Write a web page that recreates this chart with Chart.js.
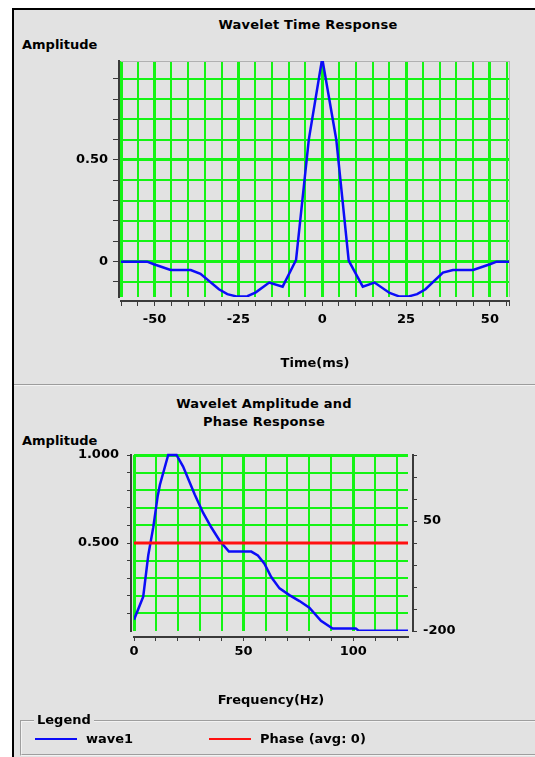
<!DOCTYPE html>
<html>
<head>
<meta charset="utf-8">
<title>Wavelet Response</title>
<script src="https://cdn.jsdelivr.net/npm/chart.js@4.4.1/dist/chart.umd.min.js"></script>
<style>
  body { margin:0; width:535px; height:757px; background:#fff; position:relative; overflow:hidden;
         font-family:"DejaVu Sans", sans-serif; font-weight:bold; font-size:13px; color:#000; }
  #panel { position:absolute; left:12px; top:8px; width:523px; height:749px; background:#e2e2e2;
           border-left:2px solid #000; border-top:2px solid #000; box-sizing:border-box; }
  .sep { position:absolute; left:14px; top:384px; width:521px; height:1px; background:#9c9c9c; border-bottom:1px solid #f4f4f4; }
  canvas { position:absolute; left:0; }
  .lbl { position:absolute; white-space:nowrap; line-height:15px; }
  .title { position:absolute; width:300px; text-align:center; line-height:17.5px; letter-spacing:0.2px; }
  #legendBox { position:absolute; left:20px; top:720px; width:530px; height:36px; box-sizing:border-box;
               border:2px groove #f2f2f2; }
  #legendTag { position:absolute; left:34px; top:712px; padding:0 3px; background:#e2e2e2; line-height:16px; }
  #legendItems { position:absolute; left:35px; top:731px; display:flex; line-height:16px; }
  .item { display:flex; align-items:center; }
  .item .sw { width:42px; height:2px; margin-right:9px; }
</style>
</head>
<body>
<div id="panel"></div>
<div class="sep"></div>

<div class="title" style="left:158px; top:16px;">Wavelet Time Response</div>
<div class="lbl" style="left:22px; top:37px;">Amplitude</div>
<canvas id="timeChart" width="535" height="385" style="top:0;"></canvas>

<div class="title" style="left:114px; top:395px;">Wavelet Amplitude and<br>Phase Response</div>
<div class="lbl" style="left:22px; top:433px;">Amplitude</div>
<canvas id="freqChart" width="535" height="330" style="top:385px;"></canvas>

<div id="legendBox"></div>
<div id="legendTag">Legend</div>
<div id="legendItems"></div>

<script>
// time response (ms, amplitude)
const timeMs = [-60, -52.2, -50.2, -45.2, -39.2, -36.3, -30.8, -28.3, -25.3, -22.3, -19.8, -15.8, -11.8, -7.8, -4, 0,
                4.2, 7.9, 12.1, 15.6, 20.1, 23.1, 25.5, 28.3, 30.8, 36, 39, 45, 50, 52, 55.7];
const timeAmp = [0, 0, -0.013, -0.041, -0.041, -0.06, -0.136, -0.16, -0.172, -0.17, -0.151, -0.103, -0.123, 0.008, 0.6, 1.0,
                 0.6, 0.005, -0.123, -0.103, -0.154, -0.172, -0.172, -0.16, -0.136, -0.054, -0.041, -0.041, -0.013, 0, 0];

// amplitude spectrum (Hz, normalised amplitude)
const freqHz = [0, 4.2, 6.5, 8.8, 10.8, 11.8, 15.6, 19.4, 22.4, 27.7, 31.5, 35.3, 39.1, 43.3, 53.5, 56.5, 59.5, 62.6,
                66.4, 70.9, 75.5, 80, 85.3, 90.6, 101.2, 102.5, 125];
const freqAmp = [0.064, 0.195, 0.43, 0.59, 0.766, 0.83, 1.0, 1.0, 0.934, 0.775, 0.672, 0.588, 0.513, 0.451, 0.451, 0.429, 0.382, 0.307,
                 0.242, 0.204, 0.17, 0.133, 0.058, 0.014, 0.014, 0.002, 0.002];

// phase (degrees)
const phaseHz = [0, 125];
const phaseDeg = [0, 0];

// tick positions and labelled values
const timeTicks = [-60, -55, -50, -45, -40, -35, -30, -25, -20, -15, -10, -5, 0, 5, 10, 15, 20, 25, 30, 35, 40, 45, 50, 55];
const timeLabels = [-50, -25, 0, 25, 50];
const ampTicks = [-0.1, 0, 0.1, 0.2, 0.3, 0.4, 0.5, 0.6, 0.7, 0.8, 0.9];
const ampLabels = { '0': '0', '0.5': '0.50' };
const freqTicks = [0, 10, 20, 30, 40, 50, 60, 70, 80, 90, 100, 110, 120];
const freqLabels = [0, 50, 100];
const specTicks = [0.1, 0.2, 0.3, 0.4, 0.5, 0.6, 0.7, 0.8, 0.9, 1.0];
const specLabels = { '1': '1.000', '0.5': '0.500' };
const phaseTicks = [-200, -150, -100, -50, 0, 50, 100, 150, 200];
const phaseLabels = [50, -200];

const T_MIN = -60, T_MAX = 55.7, A_MIN = -0.174, A_MAX = 0.987;
const F_MIN = 0, F_MAX = 125, S_MIN = 0, S_MAX = 1.0;

const GREEN = '#14f414';
const AXIS = '#3a3a3a';
const BLUE = '#0c0cf8';
const FONT = { family: 'DejaVu Sans', size: 13, weight: 'bold' };
Chart.defaults.font = FONT;
Chart.defaults.color = '#000';

const near = (a, b) => Math.abs(a - b) < 1e-6;
const setTicks = vals => s => { s.ticks = vals.map(v => ({ value: v })); };

// grid-only scale hugging the plot, leaving a small gap before the real axis
function gridScale(pos, min, max, vals, size, widthFor, colorFor) {
  return {
    type: 'linear', position: pos, min, max, weight: 0,
    afterBuildTicks: setTicks(vals),
    afterFit: s => { if (pos === 'bottom') s.height = size; else s.width = size; },
    ticks: { display: false },
    border: { display: false },
    grid: { drawTicks: false, lineWidth: c => widthFor(c.tick.value), color: c => colorFor(c.tick.value) }
  };
}

function axisScale(pos, min, max, vals, size, tickLen, pad, label, extra) {
  return Object.assign({
    type: 'linear', position: pos, min, max, weight: 1,
    afterBuildTicks: setTicks(vals),
    afterFit: s => { if (pos === 'bottom') s.height = size; else s.width = size; },
    border: { display: true, color: AXIS, width: 2 },
    grid: { drawOnChartArea: false, drawTicks: true, tickLength: tickLen, tickColor: AXIS, tickWidth: 1 },
    ticks: { autoSkip: false, maxRotation: 0, padding: pad, color: '#000', font: FONT, callback: label }
  }, extra || {});
}

new Chart(document.getElementById('timeChart'), {
  type: 'line',
  data: {
    datasets: [{
      label: 'wave1',
      data: timeMs.map((t, i) => ({ x: t, y: timeAmp[i] })),
      borderColor: BLUE, backgroundColor: BLUE, borderWidth: 2.5,
      pointRadius: 0, tension: 0, clip: 0, xAxisID: 'x', yAxisID: 'y'
    }]
  },
  options: {
    responsive: false, animation: false, devicePixelRatio: 1,
    layout: { padding: { top: 61, right: 26, left: 0, bottom: 0 } },
    plugins: { legend: { display: false }, tooltip: { enabled: false } },
    scales: {
      x: gridScale('bottom', T_MIN, T_MAX, timeTicks.concat([T_MAX]), 4,
        v => v === T_MAX ? 1 : (v % 25 === 0 || v === T_MIN) ? 3 : 2,
        v => v === T_MAX ? '#b0b0b0' : GREEN),
      xAxis: axisScale('bottom', T_MIN, T_MAX, timeTicks.concat([T_MAX]), 84, 5, 6,
        v => timeLabels.includes(v) ? String(v) : '',
        { title: { display: true, text: 'Time(ms)', font: FONT, color: '#000', padding: { top: 0, bottom: 14 } } }),
      y: gridScale('left', A_MIN, A_MAX, ampTicks.concat([A_MAX]), 2,
        v => v === A_MAX ? 1 : (near(v, 0) || near(v, 0.5)) ? 3 : 2,
        v => v === A_MAX ? '#b0b0b0' : GREEN),
      yAxis: axisScale('left', A_MIN, A_MAX, ampTicks, 119, 6, 5,
        v => { for (const k in ampLabels) if (near(v, +k)) return ampLabels[k]; return ''; })
    }
  }
});

// legend drawn as html from the chart's own legend items
const htmlLegend = {
  id: 'htmlLegend',
  afterUpdate(chart) {
    const box = document.getElementById('legendItems');
    box.innerHTML = '';
    const items = chart.options.plugins.legend.labels.generateLabels(chart)
      .sort((a, b) => a.datasetIndex - b.datasetIndex);
    items.forEach((it, i) => {
      const el = document.createElement('div');
      el.className = 'item';
      if (i === 0) el.style.width = '174px';
      el.innerHTML = `<span class="sw" style="background:${it.strokeStyle}"></span><span>${it.text}</span>`;
      box.appendChild(el);
    });
  }
};

new Chart(document.getElementById('freqChart'), {
  type: 'line',
  data: {
    datasets: [{
      label: 'wave1',
      data: freqHz.map((f, i) => ({ x: f, y: freqAmp[i] })),
      borderColor: BLUE, backgroundColor: BLUE, borderWidth: 2.5,
      pointRadius: 0, tension: 0, order: 1,
      clip: { left: 0, right: 0, top: 2, bottom: 0 }, xAxisID: 'x', yAxisID: 'y'
    }, {
      label: 'Phase (avg: 0)',
      data: phaseHz.map((f, i) => ({ x: f, y: phaseDeg[i] })),
      borderColor: '#ff1010', backgroundColor: '#ff1010', borderWidth: 3,
      pointRadius: 0, tension: 0, order: 0, clip: 0, xAxisID: 'x', yAxisID: 'yPhase'
    }]
  },
  options: {
    responsive: false, animation: false, devicePixelRatio: 1,
    layout: { padding: { top: 70, right: 72, left: 0, bottom: 0 } },
    plugins: { legend: { display: false }, tooltip: { enabled: false } },
    scales: {
      x: gridScale('bottom', F_MIN, F_MAX, freqTicks, 6,
        v => (v % 50 === 0) ? 3 : 2, () => GREEN),
      xAxis: axisScale('bottom', F_MIN, F_MAX, freqTicks, 78, 4, 3,
        v => freqLabels.includes(v) ? String(v) : '',
        { title: { display: true, text: 'Frequency(Hz)', font: FONT, color: '#000', padding: { top: 0, bottom: 7 } } }),
      y: gridScale('left', S_MIN, S_MAX, specTicks, 3,
        v => near(v, 1) ? 3 : 2, () => GREEN),
      yAxis: axisScale('left', S_MIN, S_MAX, specTicks, 131, 4, 8,
        v => { for (const k in specLabels) if (near(v, +k)) return specLabels[k]; return ''; }),
      ySpace: {
        type: 'linear', position: 'right', min: -200, max: 200, weight: 0,
        afterFit: s => { s.width = 5; },
        ticks: { display: false }, border: { display: false }, grid: { display: false }
      },
      yPhase: axisScale('right', -200, 200, phaseTicks, 50, 4, 6,
        v => phaseLabels.includes(v) ? String(v) : '')
    }
  },
  plugins: [htmlLegend]
});
</script>
</body>
</html>
